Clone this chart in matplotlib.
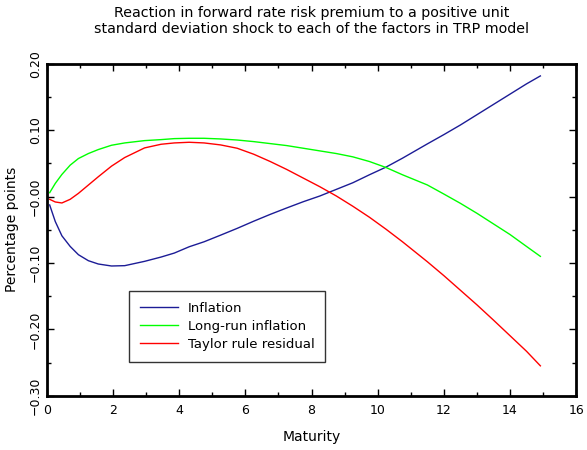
import numpy as np
import matplotlib
matplotlib.use("Agg")
import matplotlib.pyplot as plt
from matplotlib.ticker import MultipleLocator, FixedLocator, FixedFormatter

maturity = [0.08, 0.25, 0.45, 0.7, 0.95, 1.25, 1.55, 1.95, 2.35, 2.95, 3.45, 3.85,
            4.3, 4.75, 5.25, 5.75, 6.25, 6.75, 7.25, 7.75, 8.25, 8.75, 9.25, 9.75,
            10.25, 10.75, 11.5, 12.0, 12.5, 13.0, 13.5, 14.0, 14.5, 14.92]

inflation = [-0.0125, -0.0375, -0.059, -0.075, -0.0875, -0.0965, -0.1015, -0.1045,
             -0.104, -0.0975, -0.091, -0.085, -0.0755, -0.068, -0.058, -0.0478,
             -0.037, -0.0267, -0.017, -0.0076, 0.001, 0.011, 0.021, 0.033,
             0.0445, 0.058, 0.0795, 0.0935, 0.108, 0.1235, 0.139, 0.1545, 0.170, 0.182]

long_run = [0.006, 0.020, 0.0335, 0.0475, 0.0575, 0.065, 0.071, 0.0775,
            0.081, 0.0845, 0.086, 0.0875, 0.088, 0.088, 0.087, 0.0854,
            0.083, 0.080, 0.077, 0.073, 0.069, 0.065, 0.060, 0.053,
            0.044, 0.033, 0.0177, 0.004, -0.010, -0.025, -0.041, -0.057, -0.075, -0.090]

taylor = [-0.004, -0.008, -0.0095, -0.004, 0.005, 0.0175, 0.030, 0.046,
          0.059, 0.0735, 0.079, 0.081, 0.082, 0.081, 0.078, 0.073,
          0.064, 0.053, 0.041, 0.028, 0.015, 0.001, -0.0145, -0.031,
          -0.049, -0.068, -0.098, -0.119, -0.141, -0.163, -0.186, -0.2095, -0.233, -0.255]

series_names = ["Inflation", "Long-run inflation", "Taylor rule residual"]
series_colors = ["#1c1c96", "#00ff00", "#ff0000"]

ytick_vals = [-0.30, -0.20, -0.10, 0.0, 0.10, 0.20]
ytick_labels = ["\u22120.30", "\u22120.20", "\u22120.10", "\u22120.00", "0.10", "0.20"]

fig = plt.figure(figsize=(5.87, 4.5), dpi=100)
ax = fig.add_axes([0.0801, 0.1207, 0.9013, 0.7371])

for vals, name, col in zip([inflation, long_run, taylor], series_names, series_colors):
    ax.plot(maturity, vals, color=col, lw=1.0, label=name)

ax.set_xlim(0, 16)
ax.set_ylim(-0.30, 0.20)
ax.xaxis.set_major_locator(MultipleLocator(2))
ax.xaxis.set_minor_locator(MultipleLocator(1))
ax.yaxis.set_major_locator(FixedLocator(ytick_vals))
ax.yaxis.set_major_formatter(FixedFormatter(ytick_labels))
ax.yaxis.set_minor_locator(MultipleLocator(0.05))

ax.tick_params(which="both", direction="in", top=True, right=True, labelsize=9)
ax.tick_params(which="major", length=5, width=1)
ax.tick_params(which="minor", length=3, width=1)
ax.tick_params(axis="x", pad=6)
for lab in ax.get_yticklabels():
    lab.set_rotation(90)
    lab.set_va("center")
for sp in ax.spines.values():
    sp.set_linewidth(2)

ax.set_xlabel("Maturity", fontsize=10, labelpad=9)
ax.set_ylabel("Percentage points", fontsize=10, labelpad=7)
ax.set_title("Reaction in forward rate risk premium to a positive unit\n"
             "standard deviation shock to each of the factors in TRP model",
             fontsize=10.3, pad=22, linespacing=1.2)

leg = ax.legend(loc="upper left", bbox_to_anchor=(0.155, 0.3157), borderaxespad=0,
                fontsize=9.5, fancybox=False, edgecolor="#333333", framealpha=1,
                handlelength=2.9, handletextpad=0.75, borderpad=0.8,
                labelspacing=0.4)
leg.get_frame().set_linewidth(1)

fig.savefig("out.png", dpi=100)
